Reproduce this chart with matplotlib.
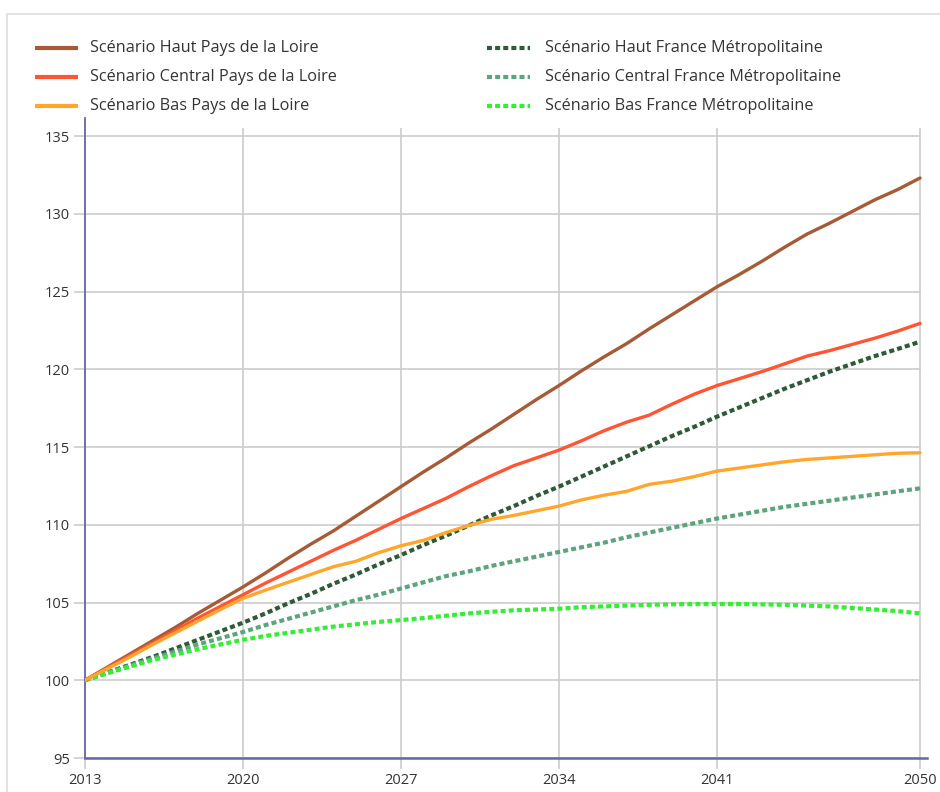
import matplotlib
matplotlib.use("Agg")
import matplotlib.pyplot as plt
from matplotlib.lines import Line2D
from matplotlib.patches import Rectangle

plt.rcParams['font.family'] = ['Open Sans', 'DejaVu Sans']

years = list(range(2013, 2051))

haut_pdl = [100.0, 100.85, 101.7, 102.55, 103.4, 104.3, 105.15, 106.0, 106.9, 107.85,
            108.75, 109.6, 110.55, 111.5, 112.45, 113.4, 114.3, 115.25, 116.15, 117.1,
            118.05, 118.95, 119.9, 120.8, 121.65, 122.6, 123.5, 124.4, 125.3, 126.1,
            126.95, 127.85, 128.7, 129.4, 130.15, 130.9, 131.55, 132.3]
central_pdl = [100.0, 100.8, 101.6, 102.4, 103.2, 104.0, 104.75, 105.5, 106.25, 106.95,
               107.65, 108.35, 109.0, 109.7, 110.4, 111.05, 111.7, 112.45, 113.15, 113.8,
               114.3, 114.8, 115.4, 116.05, 116.6, 117.05, 117.75, 118.4, 118.95, 119.4,
               119.85, 120.35, 120.85, 121.2, 121.6, 122.0, 122.45, 122.95]
bas_pdl = [100.0, 100.75, 101.5, 102.3, 103.05, 103.8, 104.55, 105.27, 105.8, 106.3,
           106.8, 107.3, 107.65, 108.2, 108.65, 109.0, 109.5, 109.95, 110.35, 110.6,
           110.9, 111.2, 111.6, 111.9, 112.15, 112.6, 112.8, 113.1, 113.45, 113.65,
           113.85, 114.05, 114.2, 114.3, 114.4, 114.5, 114.6, 114.63]
haut_fm = [100.0, 100.5, 101.0, 101.5, 102.05, 102.6, 103.15, 103.7, 104.3, 104.95,
           105.55, 106.2, 106.8, 107.45, 108.05, 108.7, 109.3, 109.95, 110.6, 111.2,
           111.85, 112.45, 113.1, 113.75, 114.4, 115.05, 115.7, 116.3, 116.95, 117.55,
           118.15, 118.75, 119.3, 119.85, 120.35, 120.85, 121.3, 121.77]
central_fm = [100.0, 100.48, 100.95, 101.4, 101.85, 102.3, 102.7, 103.1, 103.55, 103.95,
              104.35, 104.75, 105.15, 105.5, 105.9, 106.3, 106.7, 107.0, 107.35, 107.65,
              107.95, 108.25, 108.55, 108.85, 109.2, 109.5, 109.8, 110.1, 110.4, 110.65,
              110.9, 111.15, 111.35, 111.55, 111.75, 111.95, 112.15, 112.34]
bas_fm = [100.0, 100.45, 100.88, 101.3, 101.65, 102.0, 102.3, 102.6, 102.85, 103.05,
          103.25, 103.45, 103.6, 103.75, 103.87, 104.0, 104.15, 104.3, 104.4, 104.5,
          104.55, 104.6, 104.7, 104.75, 104.8, 104.85, 104.88, 104.9, 104.9, 104.9,
          104.88, 104.85, 104.8, 104.75, 104.65, 104.55, 104.45, 104.3]

labels = [
    "Scénario Haut Pays de la Loire",
    "Scénario Central Pays de la Loire",
    "Scénario Bas Pays de la Loire",
    "Scénario Haut France Métropolitaine",
    "Scénario Central France Métropolitaine",
    "Scénario Bas France Métropolitaine",
]
colors = ["#a65a35", "#ff5533", "#ffa62b", "#2d5a37", "#5ca57c", "#33ee33"]
series = [haut_pdl, central_pdl, bas_pdl, haut_fm, central_fm, bas_fm]
dotted = [False, False, False, True, True, True]

x_ticks = [2013, 2020, 2027, 2034, 2041, 2050]
y_ticks = [95, 100, 105, 110, 115, 120, 125, 130, 135]

W, H = 940, 792
fig = plt.figure(figsize=(W / 100, H / 100), dpi=100)

# light frame around the chart
fig.patches.append(Rectangle((7 / W, -0.1), 1.2, 1 - 14 / H + 0.1, transform=fig.transFigure,
                             fill=False, edgecolor="#dddddd", linewidth=1.2))

ax = fig.add_axes([85 / W, (H - 758) / H, (927 - 85) / W, (758 - 118) / H])
ax.set_xlim(2013, 2050.31)
ax.set_ylim(95, 136.16)

grid_c = "#cccccc"
axis_c = "#6666aa"
for yv in y_ticks:
    ax.axhline(yv, xmin=0, xmax=(2050 - 2013) / (2050.31 - 2013), color=grid_c, lw=1.2, zorder=0)
ax.vlines(x_ticks, 95, 135.5, color=grid_c, lw=1.2, zorder=0)

dot_style = (0, (1.2, 0.75))
# dotted national series below, regional solid lines on top
for vals, col, dt in zip(series, colors, dotted):
    if dt:
        ax.plot(years, vals, color=col, lw=3.0, linestyle=dot_style,
                dash_capstyle="butt", zorder=3)
for vals, col, dt in zip(series, colors, dotted):
    if not dt:
        ax.plot(years, vals, color=col, lw=2.4, solid_capstyle="round", zorder=4)

for s in ["top", "right"]:
    ax.spines[s].set_visible(False)
ax.spines["left"].set_color(axis_c)
ax.spines["bottom"].set_color(axis_c)
ax.spines["left"].set_linewidth(1.3)
ax.spines["bottom"].set_linewidth(1.8)

ax.set_xticks(x_ticks)
ax.set_yticks(y_ticks)
ax.tick_params(axis="both", colors=grid_c, length=8, width=1.2, labelcolor="#333333",
               labelsize=10.5)
ax.tick_params(axis="x", pad=3)
ax.tick_params(axis="y", pad=3)
for lbl in ax.get_xticklabels() + ax.get_yticklabels():
    lbl.set_fontweight("medium")

# legend drawn in two columns
rows_y = [48, 77, 106]
for i, (lab, col, dt) in enumerate(zip(labels, colors, dotted)):
    col_idx = i // 3
    yy = 1 - rows_y[i % 3] / H
    if col_idx == 0:
        x0, x1, xt = 35, 78, 90
    else:
        x0, x1, xt = 487, 530, 545
    if dt:
        ln = Line2D([x0 / W, x1 / W], [yy, yy], transform=fig.transFigure, color=col,
                    lw=3.0, linestyle=dot_style, dash_capstyle="butt")
    else:
        ln = Line2D([x0 / W, x1 / W], [yy, yy], transform=fig.transFigure, color=col,
                    lw=3.0, solid_capstyle="butt")
    fig.lines.append(ln)
    fig.text(xt / W, yy, lab, fontsize=11.7, color="#333333", va="center", ha="left",
             fontweight="medium")

fig.savefig("out.png", dpi=100)
